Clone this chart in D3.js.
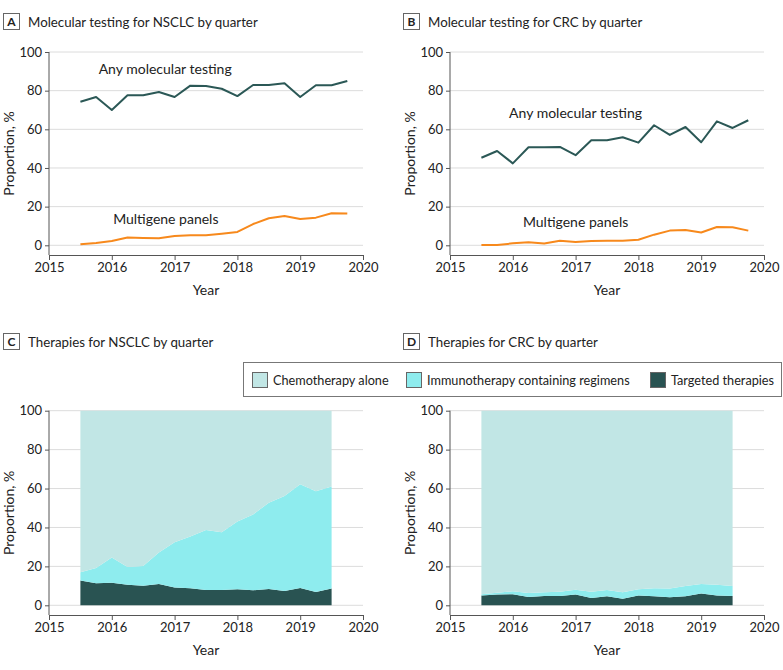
<!DOCTYPE html>
<html>
<head>
<meta charset="utf-8">
<script src="https://cdn.jsdelivr.net/npm/d3@7"></script>
<style>
  body { margin: 0; background: #fff; }
  svg { font-family: Lato, "Noto Sans", sans-serif; }
</style>
</head>
<body>
<script>
const [W, H] = [783, 670]

// quarters (decimal years)
const quarters = [
  2015.5, 2015.75, 2016, 2016.25, 2016.5, 2016.75, 2017, 2017.25, 2017.5,
  2017.75, 2018, 2018.25, 2018.5, 2018.75, 2019, 2019.25, 2019.5, 2019.75
];
const yearTicks = [2015, 2016, 2017, 2018, 2019, 2020];
const pctTicks = [0, 20, 40, 60, 80, 100];

// panel A (NSCLC testing, %)
const nsclcAnyTesting = [74.3, 76.7, 70.0, 77.6, 77.6, 79.3, 76.7, 82.6, 82.4, 81.0, 77.2, 82.9, 82.9, 83.8, 76.7, 82.8, 82.8, 85.0];
const nsclcMultigene = [0.5, 1.2, 2.2, 4.0, 3.8, 3.6, 4.8, 5.2, 5.2, 6.0, 6.9, 11.0, 14.0, 15.2, 13.6, 14.3, 16.6, 16.4];

// panel B (CRC testing, %)
const crcAnyTesting = [45.3, 48.8, 42.4, 50.7, 50.7, 50.9, 46.6, 54.3, 54.3, 55.9, 53.1, 62.1, 57.1, 61.2, 53.3, 64.1, 60.7, 64.7];
const crcMultigene = [0.2, 0.2, 1.0, 1.6, 0.9, 2.4, 1.7, 2.2, 2.4, 2.4, 2.9, 5.5, 7.6, 7.9, 6.6, 9.5, 9.3, 7.6];

// therapy quarters: 2015.5 .. 2019.5
const therapyQuarters = quarters.slice(0, 17);
const therapyKeys = ["targeted", "immuno", "chemo"];
const therapyLabels = ["Chemotherapy alone", "Immunotherapy containing regimens", "Targeted therapies"];

// panel C (NSCLC therapies, share %)
const nsclcTargeted = [12.7, 11.3, 11.6, 10.6, 10.1, 11.0, 9.2, 8.7, 7.9, 7.9, 8.2, 7.7, 8.4, 7.4, 8.9, 6.8, 8.6];
const nsclcImmuno = [4.3, 7.9, 12.9, 9.1, 10.1, 16.1, 23.2, 26.6, 30.8, 29.6, 34.8, 39.0, 44.3, 48.8, 53.3, 51.8, 52.5];
const nsclcChemo = [83.0, 80.8, 75.5, 80.3, 79.8, 72.9, 67.6, 64.7, 61.3, 62.5, 57.0, 53.3, 47.3, 43.8, 37.8, 41.4, 38.9];

// panel D (CRC therapies, share %)
const crcTargeted = [5.0, 5.5, 5.7, 4.3, 4.8, 4.8, 5.5, 3.8, 4.6, 3.4, 5.0, 4.6, 4.1, 4.6, 6.0, 5.0, 4.8];
const crcImmuno = [0.7, 1.0, 1.5, 2.0, 1.9, 2.2, 2.5, 3.2, 3.3, 3.3, 3.2, 4.1, 4.5, 5.3, 5.0, 5.6, 5.1];
const crcChemo = [94.3, 93.5, 92.8, 93.7, 93.3, 93.0, 92.0, 93.0, 92.1, 93.3, 91.8, 91.3, 91.4, 90.1, 89.0, 89.4, 90.1];

const colors = {
  line: "#2b5856", orange: "#f7891c",
  chemo: "#c1e6e5", immuno: "#8eecee", targeted: "#295352",
  grid: "#dcdcdc", axis: "#555", text: "#222"
};

const svg = d3.select("body").append("svg")
  .attr("width", W)
  .attr("height", H);

// panel title with letter badge
function panelTitle(x, y, letter, title) {
  const g = svg.append("g").attr("transform", `translate(${x},${y})`);
  g.append("rect")
    .attr("x", 0.5).attr("y", 0.5)
    .attr("width", 16).attr("height", 16)
    .attr("fill", "#fff")
    .attr("stroke", "#666");
  g.append("text")
    .attr("x", 8.5).attr("y", 13)
    .attr("text-anchor", "middle")
    .attr("font-size", "12px")
    .attr("font-weight", "bold")
    .attr("fill", colors.text)
    .text(letter);
  g.append("text")
    .attr("x", 25).attr("y", 13.5)
    .attr("font-size", "13.3px")
    .attr("fill", colors.text)
    .text(title);
}

// shared axes + gridlines; returns scales
function axesFrame(left, top0, top100, axisY) {
  const x = d3.scaleLinear().domain([2015, 2020]).range([left, left + 314]);
  const y = d3.scaleLinear().domain([0, 100]).range([top0, top100]);

  // gridlines
  svg.append("g").selectAll("line")
    .data(pctTicks)
    .enter()
    .append("line")
      .attr("x1", left).attr("x2", left + 314)
      .attr("y1", d => y(d)).attr("y2", d => y(d))
      .attr("stroke", colors.grid)
      .attr("stroke-width", 1);

  const yAxis = svg.append("g")
    .attr("transform", `translate(${left},0)`)
    .call(d3.axisLeft(y).tickValues(pctTicks).tickSize(4).tickPadding(3));
  yAxis.select(".domain").attr("d", `M0,${y(100)}V${axisY}`);

  const xAxis = svg.append("g")
    .attr("transform", `translate(0,${axisY})`)
    .call(d3.axisBottom(x).tickValues(yearTicks).tickFormat(d3.format("d")).tickSize(5).tickPadding(3));

  [yAxis, xAxis].forEach(a => {
    a.select(".domain").attr("stroke", colors.axis);
    a.selectAll(".tick line").attr("stroke", colors.axis);
    a.selectAll("text").attr("font-size", "13px").attr("fill", colors.text)
      .attr("font-family", "Lato, 'Noto Sans', sans-serif");
  });

  // axis titles
  svg.append("text")
    .attr("transform", `translate(${left - 35},${(y(100) + axisY) / 2}) rotate(-90)`)
    .attr("text-anchor", "middle")
    .attr("font-size", "14px")
    .attr("fill", colors.text)
    .text("Proportion, %");
  svg.append("text")
    .attr("x", left + 157)
    .attr("y", axisY + 40)
    .attr("text-anchor", "middle")
    .attr("font-size", "14px")
    .attr("fill", colors.text)
    .text("Year");

  return { x, y };
}

function linePanel(left, anyVals, multiVals, anyLabel, multiLabel) {
  const { x, y } = axesFrame(left, 245.3, 52, 255);
  const line = d3.line().x((d, i) => x(quarters[i])).y(d => y(d));

  [[anyVals, colors.line], [multiVals, colors.orange]].forEach(([vals, c]) => {
    svg.append("path")
      .datum(vals)
      .attr("d", line)
      .attr("fill", "none")
      .attr("stroke", c)
      .attr("stroke-width", 2)
      .attr("stroke-linejoin", "round");
  });

  [[anyLabel, "Any molecular testing"], [multiLabel, "Multigene panels"]].forEach(([pos, t]) => {
    svg.append("text")
      .attr("x", x(pos[0])).attr("y", y(pos[1]))
      .attr("text-anchor", "middle")
      .attr("font-size", "14px")
      .attr("fill", colors.text)
      .text(t);
  });
}

function areaPanel(left, targeted, immuno, chemo) {
  const { x, y } = axesFrame(left, 605.3, 410.7, 615);
  const rows = therapyQuarters.map((q, i) => ({
    q, targeted: targeted[i], immuno: immuno[i], chemo: chemo[i]
  }));
  const series = d3.stack().keys(therapyKeys)(rows);
  const area = d3.area()
    .x(d => x(d.data.q))
    .y0(d => y(d[0]))
    .y1(d => y(Math.min(100, d[1])));

  svg.append("g").selectAll("path")
    .data(series)
    .enter()
    .append("path")
      .attr("d", d => d.key === "chemo"
        ? area(d.map(p => Object.assign([p[0], 100], { data: p.data })))
        : area(d))
      .attr("fill", d => colors[d.key]);
}

panelTitle(3, 13, "A", "Molecular testing for NSCLC by quarter");
panelTitle(403, 13, "B", "Molecular testing for CRC by quarter");
panelTitle(3, 333, "C", "Therapies for NSCLC by quarter");
panelTitle(403, 333, "D", "Therapies for CRC by quarter");

linePanel(49, nsclcAnyTesting, nsclcMultigene, [2016.85, 88.6], [2016.86, 11.0]);
linePanel(450, crcAnyTesting, crcMultigene, [2017.0, 65.8], [2017.0, 9.5]);

areaPanel(49, nsclcTargeted, nsclcImmuno, nsclcChemo);
areaPanel(450, crcTargeted, crcImmuno, crcChemo);

// legend
const legend = svg.append("g");
legend.append("rect")
  .attr("x", 243.5).attr("y", 362.5)
  .attr("width", 538).attr("height", 34)
  .attr("fill", "#fff")
  .attr("stroke", "#777");
const legendItems = [
  { key: "chemo", label: therapyLabels[0], x: 252 },
  { key: "immuno", label: therapyLabels[1], x: 406 },
  { key: "targeted", label: therapyLabels[2], x: 650 }
];
legend.selectAll("g.item")
  .data(legendItems)
  .enter()
  .append("g")
    .attr("class", "item")
    .attr("transform", d => `translate(${d.x},372)`)
    .each(function(d) {
      const g = d3.select(this);
      g.append("rect")
        .attr("x", 0.5).attr("y", 0.5)
        .attr("width", 15).attr("height", 15)
        .attr("fill", colors[d.key])
        .attr("stroke", "#666");
      g.append("text")
        .attr("x", 21).attr("y", 12.5)
        .attr("font-size", "12.7px")
        .attr("fill", colors.text)
        .text(d.label);
    });
</script>
</body>
</html>
